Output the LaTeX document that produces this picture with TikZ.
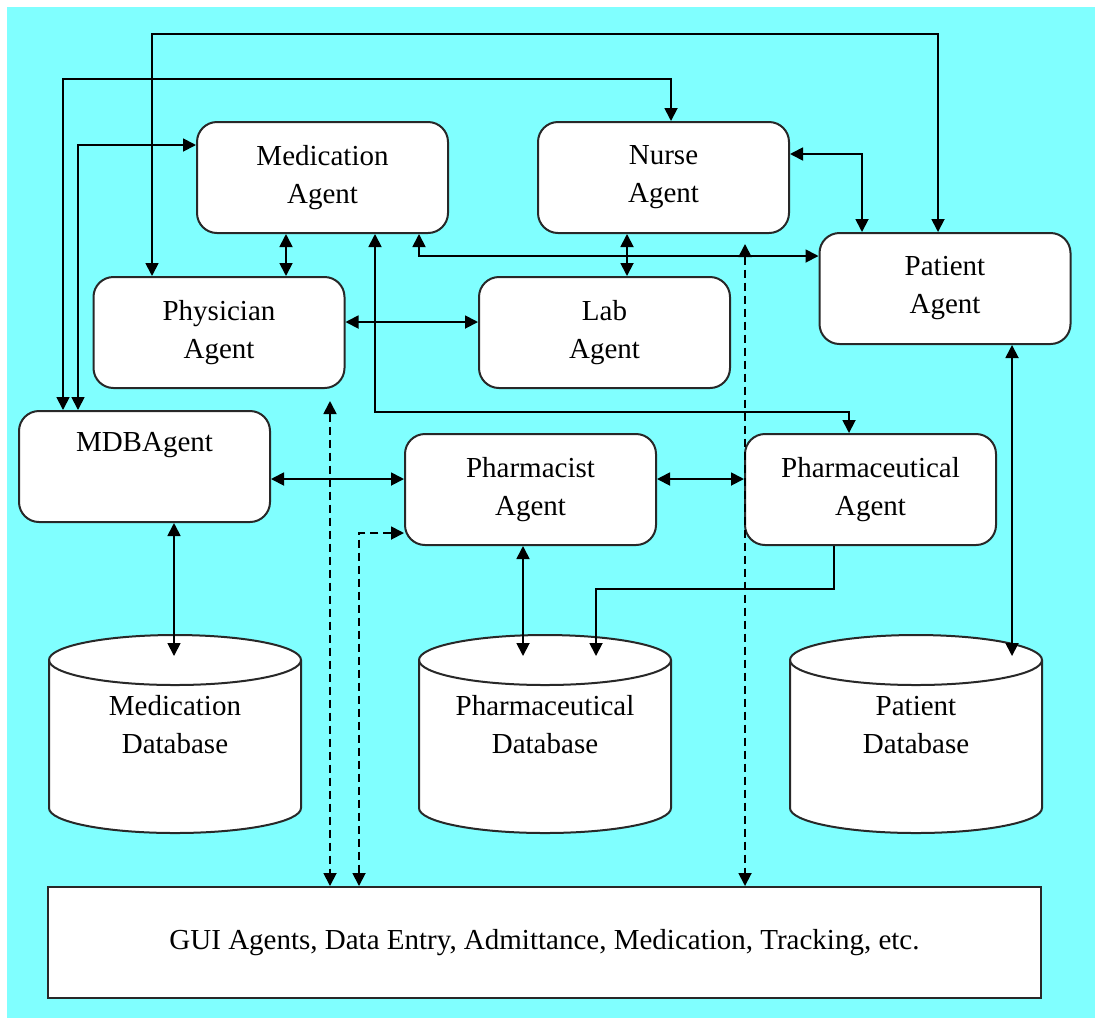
\documentclass[tikz,border=0pt]{standalone}
\usepackage{fontspec}
\setmainfont{Liberation Serif}
\usetikzlibrary{arrows.meta}
\definecolor{bgcyan}{RGB}{128,255,255}
\definecolor{edge}{RGB}{40,40,40}
\begin{document}
\begin{tikzpicture}[x=0.5pt,y=-0.5pt,
  agent/.style={draw=edge,line width=1pt,fill=white,rounded corners=10pt,
    minimum width=125.5pt,minimum height=55.5pt,inner sep=0pt,align=center,
    font=\fontsize{14.5}{19}\selectfont},
  label/.style={inner sep=0pt,align=center,font=\fontsize{14.5}{19}\selectfont},
  link/.style={line width=0.9pt,draw=black},
  tip/.style={-{Triangle[length=6.5pt,width=6.5pt]}},
  both/.style={{Triangle[length=6.5pt,width=6.5pt]}-{Triangle[length=6.5pt,width=6.5pt]}},
  guidash/.style={dash pattern=on 4pt off 2.5pt}]
\useasboundingbox (0,0) rectangle (1095,1018);
\fill[white] (0,0) rectangle (1095,1018);
\fill[bgcyan] (7,7) rectangle (1095,1018);

% agents
\node[agent] (med)   at (322.5,177.5) {Medication\\Agent};
\node[agent] (nurse) at (663.5,177.5) {Nurse\\Agent};
\node[agent] (pat)   at (945,288.5)   {Patient\\Agent};
\node[agent] (phys)  at (219,332.5)   {Physician\\Agent};
\node[agent] (lab)   at (604.5,332.5) {Lab\\Agent};
\node[agent] (mdb)   at (144.5,466.5) {MDBAgent\\\strut};
\node[agent] (phm)   at (530.5,489.5) {Pharmacist\\Agent};
\node[agent] (phc)   at (870.5,489.5) {Pharmaceutical\\Agent};
\node[draw=edge,line width=1pt,fill=white,minimum width=496.5pt,minimum height=55.5pt,
  inner sep=0pt,font=\fontsize{14.5}{19}\selectfont] (gui) at (544.5,942.5)
  {GUI Agents, Data Entry, Admittance, Medication, Tracking, etc.};

% databases
\foreach \cx in {175,545,916}{
  \draw[draw=edge,line width=1pt,fill=white]
    (\cx-126,660) -- (\cx-126,808)
    arc[start angle=180,end angle=0,x radius=126,y radius=25]
    -- (\cx+126,660)
    arc[start angle=0,end angle=-180,x radius=126,y radius=25] -- cycle;
  \draw[draw=edge,line width=1pt]
    (\cx-126,660) arc[start angle=180,end angle=0,x radius=126,y radius=25];
}
\node[label] (meddb) at (175,725) {Medication\\Database};
\node[label] (phdb)  at (545,725) {Pharmaceutical\\Database};
\node[label] (patdb) at (916,725) {Patient\\Database};
\coordinate (meddbtop) at (174,656);
\coordinate (phdbtopa) at (523,656);
\coordinate (phdbtopb) at (596,656);
\coordinate (patdbtop) at (1012,656);

% bend points
\coordinate (a1) at (152,34);  \coordinate (a2) at (938,34);
\coordinate (b1) at (63,79);   \coordinate (b2) at (671,79);
\coordinate (c1) at (78,145);
\coordinate (d1) at (286,0);
\coordinate (e1) at (375,412); \coordinate (e2) at (849,412);
\coordinate (f1) at (419,256);
\coordinate (g1) at (862,154);
\coordinate (h1) at (627,0);
\coordinate (k1) at (0,322);
\coordinate (m1) at (0,479);
\coordinate (p1) at (834,589); \coordinate (p2) at (596,589);
\coordinate (q1) at (330,401);
\coordinate (r1) at (359,533);
\coordinate (s1) at (745,244);

% solid connectors
\draw[link,both] (phys.north -| a1) -- (a1) -- (a2) -- (pat.north -| a2);
\draw[link,both] (mdb.north -| b1) -- (b1) -- (b2) -- (nurse.north -| b2);
\draw[link,both] (med.west |- c1) -- (c1) -- (mdb.north -| c1);
\draw[link,both] (med.south -| d1) -- (phys.north -| d1);
\draw[link,both] (med.south -| e1) -- (e1) -- (e2) -- (phc.north -| e2);
\draw[link,both] (med.south -| f1) -- (f1) -- (pat.west |- f1);
\draw[link,both] (nurse.east |- g1) -- (g1) -- (pat.north -| g1);
\draw[link,both] (nurse.south -| h1) -- (lab.north -| h1);
\draw[link,both] (phys.east |- k1) -- (lab.west |- k1);
\draw[link,both] (mdb.east |- m1) -- (phm.west |- m1);
\draw[link,both] (phm.east |- m1) -- (phc.west |- m1);
\draw[link,both] (mdb.south -| meddbtop) -- (meddbtop);
\draw[link,both] (phm.south -| phdbtopa) -- (phdbtopa);
\draw[link,tip] (phc.south -| p1) -- (p1) -- (p2) -- (phdbtopb);
\draw[link,both] (pat.south -| patdbtop) -- (patdbtop);

% dashed connectors to the GUI layer
\draw[link,guidash,both] (q1) -- (gui.north -| q1);
\draw[link,guidash,both] (phm.west |- r1) -- (r1) -- (gui.north -| r1);
\draw[link,guidash,both] (s1) -- (gui.north -| s1);
\end{tikzpicture}
\end{document}
